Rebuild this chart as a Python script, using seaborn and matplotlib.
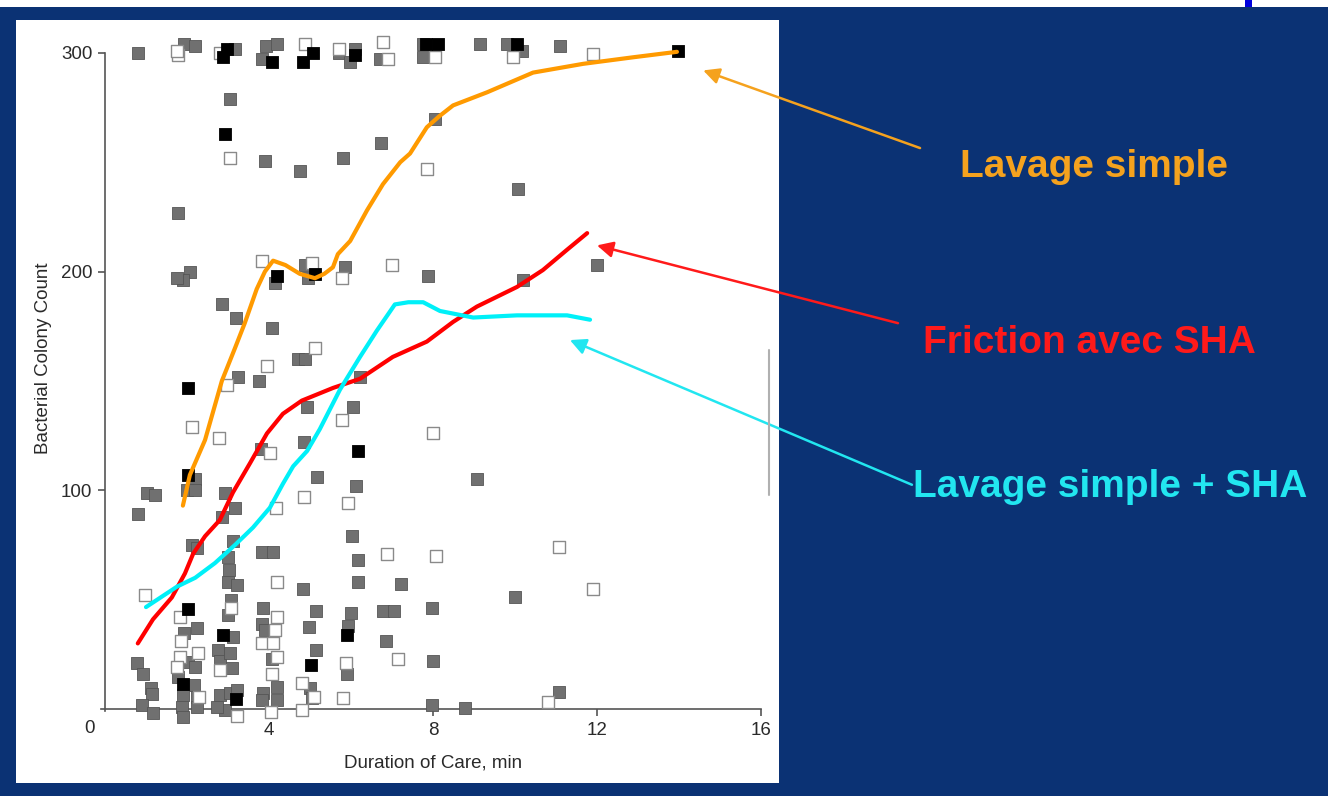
import numpy as np
import pandas as pd
import matplotlib
matplotlib.use("Agg")
import matplotlib.pyplot as plt
import seaborn as sns
from matplotlib.patches import Rectangle
from matplotlib.lines import Line2D

# Scatter data: (duration in min, colony count)
grey_pts = [
    (0.8, 300), (1.93, 304), (2.2, 303), (3.17, 302), (3.93, 303), (4.2, 304), (3.83, 297),
    (5.7, 300), (6.1, 302), (5.98, 296), (6.7, 297), (7.76, 304), (7.76, 298), (9.15, 304),
    (9.8, 304), (10.17, 301), (11.1, 303),
    (3.05, 279), (3.9, 250.6), (4.75, 246), (1.78, 227), (8.05, 270), (6.73, 259), (5.8, 252),
    (10.07, 238), (2.07, 200), (1.9, 196), (1.75, 197), (4.15, 195), (2.85, 185), (3.2, 179),
    (4.07, 174), (4.7, 160), (3.24, 152), (3.76, 150), (3.8, 119),
    (2.2, 105), (2.0, 100), (2.2, 100), (1.02, 99), (1.22, 98), (2.93, 99), (3.17, 92),
    (0.8, 89), (2.85, 88),
    (4.88, 203), (5.85, 202), (4.95, 197), (7.88, 198), (12.0, 203), (10.2, 196), (4.88, 160),
    (6.22, 152), (4.93, 138), (6.05, 138), (4.85, 122), (5.17, 106), (6.12, 102), (9.07, 105),
    (7.22, 57), (6.78, 45), (7.05, 45), (7.98, 46), (10.0, 51), (6.85, 31), (8.0, 22),
    (7.98, 2), (8.78, 0.5), (11.07, 8),
    (6.02, 79), (6.17, 68), (6.17, 58), (3.83, 72), (4.1, 72), (4.83, 55), (3.86, 46),
    (5.15, 45), (3.83, 39), (3.9, 36), (4.98, 37.5), (6.0, 44), (5.93, 38), (5.15, 27),
    (4.07, 23), (5.9, 16), (5.0, 9.6), (5.05, 5), (3.86, 7.3), (4.2, 10), (4.2, 4), (3.83, 4),
    (0.78, 21), (0.93, 16), (1.12, 9.6), (1.15, 7), (0.9, 2), (1.17, -2),
    (2.12, 75), (2.25, 73.6), (2.25, 37), (1.93, 34.7), (2.02, 21.5), (2.2, 19), (1.78, 14.6),
    (2.17, 11), (1.9, 6.4), (2.25, 5.5), (1.88, 1), (2.25, 1), (1.9, -3.6),
    (3.12, 77), (3.0, 69.5), (3.02, 63.5), (3.0, 58), (3.22, 56.7), (3.07, 50), (3.0, 43),
    (3.12, 33), (2.76, 27), (2.8, 22), (3.05, 25.6), (3.1, 18.7), (2.8, 6.4), (3.05, 7.3),
    (3.22, 8.7), (2.93, -0.5), (2.73, 1),
]
black_pts = [
    (2.98, 302), (2.88, 298), (4.07, 296), (5.07, 300), (4.83, 296), (6.1, 299), (7.83, 304),
    (8.12, 304), (10.05, 304), (13.98, 301), (2.93, 263), (4.2, 198), (5.12, 199), (2.02, 147),
    (2.02, 107), (6.17, 118), (5.9, 34), (5.02, 20), (2.02, 45.7), (1.9, 11.4), (2.88, 34),
    (3.2, 4.6),
]
open_pts = [
    (1.78, 299), (1.75, 301), (2.8, 300), (4.88, 304), (5.7, 302), (6.78, 305), (6.9, 297),
    (8.05, 298), (9.95, 298), (11.9, 299.5), (3.05, 252), (7.85, 247), (3.83, 205), (5.05, 204),
    (5.78, 197), (7.0, 203), (3.95, 157), (2.98, 148), (2.12, 129), (2.78, 124), (4.02, 117),
    (4.17, 92), (5.12, 165), (5.78, 132), (8.0, 126), (4.85, 97), (5.93, 94), (6.88, 71),
    (8.07, 70), (11.07, 74), (11.9, 55), (7.15, 23), (10.8, 3), (4.2, 58), (4.2, 42),
    (4.15, 36), (3.83, 30), (4.1, 30), (4.2, 24), (5.88, 21), (4.07, 16), (4.8, 12), (5.8, 5),
    (4.8, -0.5), (4.05, -1.4), (5.1, 5.5), (0.98, 52), (1.83, 42), (1.85, 31), (1.83, 24),
    (2.27, 25.6), (1.76, 19), (2.3, 5.5), (3.07, 46), (2.8, 18), (3.22, -3),
]

# Smoothed curves
orange_x = [1.9, 2.07, 2.44, 2.85, 3.17, 3.41, 3.7, 3.9, 4.1, 4.4, 4.75, 5.12, 5.35, 5.56,
            5.68, 5.98, 6.39, 6.78, 7.2, 7.44, 7.85, 8.15, 8.49, 9.32, 10.44, 11.66, 12.88, 13.95]
orange_y = [93, 107, 123, 150, 165, 176.5, 192, 200, 205, 203, 199, 197, 199, 202,
            208, 214, 228, 240, 250, 254, 266, 271, 276, 282, 291, 295, 298, 300.5]
red_x = [0.8, 1.17, 1.63, 1.95, 2.15, 2.44, 2.8, 3.12, 3.54, 3.95, 4.34, 4.8, 5.56, 6.22,
         7.02, 7.85, 8.49, 9.07, 10.05, 10.68, 11.27, 11.76]
red_y = [30, 41, 51, 62, 71, 79, 86.4, 99, 112.5, 126, 135, 141, 146.8, 151,
         161, 168, 177, 184, 193, 200.7, 210, 217.6]
cyan_x = [1.0, 1.76, 2.2, 2.68, 3.17, 3.61, 4.02, 4.34, 4.59, 4.93, 5.24, 5.73, 6.22, 6.63,
          7.07, 7.4, 7.76, 8.17, 8.98, 10.05, 11.27, 11.83]
cyan_y = [46.6, 56, 60, 66.7, 75, 83, 92, 103, 111, 118, 128, 146, 161, 173,
          185, 186, 186, 182, 179, 180, 180, 178]

x_ticks = [4, 8, 12, 16]
y_ticks = [100, 200, 300]

navy = "#0b3274"
grey = "#707070"

sns.set_style("white")
plt.rcParams["font.family"] = ["Liberation Sans Narrow", "Liberation Sans", "DejaVu Sans"]

fig = plt.figure(figsize=(13.28, 7.96), dpi=100, facecolor=navy)

# white panel behind the chart and white strip at the top
fig.patches.append(Rectangle((0.012, 0.0163), 0.5745, 0.9585, transform=fig.transFigure,
                             facecolor="white", edgecolor="none", zorder=-5))
fig.patches.append(Rectangle((0, 0.9912), 1, 0.0088, transform=fig.transFigure,
                             facecolor="white", edgecolor="none", zorder=-5))
fig.patches.append(Rectangle((0.9375, 0.9912), 0.005, 0.0088, transform=fig.transFigure,
                             facecolor="#0000dd", edgecolor="none", zorder=-4))

ax = fig.add_axes([0.0698, 0.0873, 0.5125, 0.8737])
ax.set_zorder(2)
ax.patch.set_alpha(0)

grey_df = pd.DataFrame(grey_pts, columns=["duration", "count"])
black_df = pd.DataFrame(black_pts, columns=["duration", "count"])
open_df = pd.DataFrame(open_pts, columns=["duration", "count"])

sns.scatterplot(data=grey_df, x="duration", y="count", marker="s", s=80,
                color=grey, edgecolor="#555555", linewidth=0.6, ax=ax, zorder=3)
sns.scatterplot(data=open_df, x="duration", y="count", marker="s", s=80,
                facecolor="white", edgecolor="#8a8a8a", linewidth=1.0, ax=ax, zorder=3)
sns.scatterplot(data=black_df, x="duration", y="count", marker="s", s=80,
                color="black", edgecolor="black", linewidth=0.6, ax=ax, zorder=4)

sns.lineplot(x=orange_x, y=orange_y, sort=False, estimator=None, color="#ff9a00",
             linewidth=3, ax=ax, zorder=5)
sns.lineplot(x=red_x, y=red_y, sort=False, estimator=None, color="#ff0000",
             linewidth=3, ax=ax, zorder=5)
sns.lineplot(x=cyan_x, y=cyan_y, sort=False, estimator=None, color="#00f0f8",
             linewidth=3, ax=ax, zorder=5)

ax.set_xlim(-0.3, 16.3)
ax.set_ylim(-8, 310)
for side in ["top", "right"]:
    ax.spines[side].set_visible(False)
ax.spines["left"].set_position(("data", 0))
ax.spines["bottom"].set_position(("data", 0))
ax.spines["left"].set_bounds(-1, 300)
ax.spines["bottom"].set_bounds(-0.1, 16)
for side in ["left", "bottom"]:
    ax.spines[side].set_color("#555555")
    ax.spines[side].set_linewidth(1.2)
ax.set_xticks(x_ticks)
ax.set_yticks(y_ticks)
ax.tick_params(axis="both", direction="out", length=5, width=1.2, color="#555555",
               labelsize=13.5, labelcolor="#2a2a2a", pad=4, left=True, bottom=True)
ax.text(-0.37, -8.7, "0", fontsize=13.5, color="#2a2a2a", ha="center", va="center")
ax.set_xlabel("Duration of Care, min", fontsize=13.5, color="#2a2a2a")
ax.set_ylabel("Bacterial Colony Count", fontsize=13.5, color="#2a2a2a")
ax.xaxis.set_label_coords(0.5, -0.04)
ax.yaxis.set_label_coords(-0.06, 0.53)

# stray grey line near right edge of panel
fig.lines.append(Line2D([769 / 1328, 769 / 1328], [1 - 350 / 796, 1 - 495 / 796],
                        transform=fig.transFigure, color="#b0b0b0", linewidth=1.5))

labels = [
    ("Lavage simple", "#f5a21e", (0.7229, 0.790), (14.59, 292), (0.6928, 0.814)),
    ("Friction avec SHA", "#ff1a1a", (0.695, 0.569), (12.0, 212), (0.6762, 0.594)),
    ("Lavage simple + SHA", "#22e6f0", (0.6875, 0.388), (11.34, 168.7), (0.6867, 0.391)),
]
for text, col, pos, head, tail in labels:
    fig.text(pos[0], pos[1], text, color=col, fontsize=28, fontweight="bold",
             family=["Liberation Sans", "DejaVu Sans"], ha="left", va="center")
    ax.annotate("", xy=head, xycoords="data", xytext=tail, textcoords="figure fraction",
                annotation_clip=False,
                arrowprops=dict(arrowstyle="-|>", color=col, lw=1.8, mutation_scale=24,
                                shrinkA=0, shrinkB=0))

fig.savefig("out.png", dpi=100, facecolor=navy)
